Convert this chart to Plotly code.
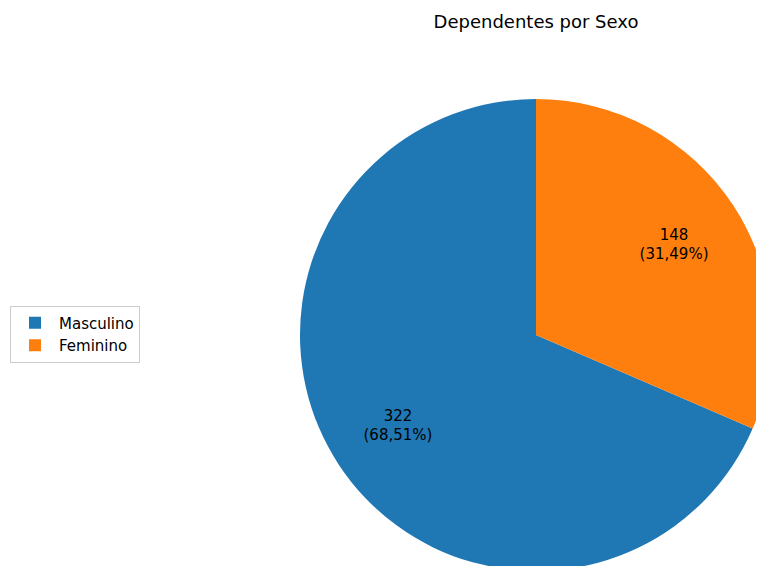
import plotly.graph_objects as go

# data
categorias = ["Masculino", "Feminino"]
quantidades = [322, 148]
cores = ["#1f77b4", "#ff7f0e"]

# the page body adds an 8px offset, so positions below are shifted by -8px
dominio = dict(x=[292 / 764, 1], y=[0, 1])
# Masculino runs counterclockwise from 12 o'clock, as in the reference
giro = quantidades[1] / sum(quantidades) * 360

fig = go.Figure()

# filled slices
fig.add_trace(go.Pie(
    labels=categorias,
    values=quantidades,
    marker=dict(colors=cores),
    sort=False,
    direction="clockwise",
    rotation=giro,
    textinfo="none",
    hoverinfo="label+value+percent",
    domain=dominio,
))

# transparent ring carrying the labels further out, like the reference
fig.add_trace(go.Pie(
    labels=categorias,
    values=quantidades,
    marker=dict(colors=["rgba(0,0,0,0)", "rgba(0,0,0,0)"]),
    sort=False,
    direction="clockwise",
    rotation=giro,
    hole=0.4,
    texttemplate="%{value}<br>(%{percent:.2%})",
    textposition="inside",
    insidetextorientation="horizontal",
    textfont=dict(color="black", size=15, family="DejaVu Sans"),
    hoverinfo="skip",
    showlegend=False,
    domain=dominio,
))

fig.update_layout(
    title=dict(
        text="Dependentes por Sexo",
        x=528 / 764,
        xanchor="center",
        xref="container",
        y=1 - 14 / 566,
        yanchor="middle",
        yref="container",
        font=dict(size=18, color="black", family="DejaVu Sans"),
    ),
    separators=",.",
    width=764,
    height=566,
    margin=dict(l=0, r=0, t=91, b=3),
    paper_bgcolor="white",
    plot_bgcolor="white",
    font=dict(family="DejaVu Sans", color="black"),
    legend=dict(
        x=2 / 764,
        xanchor="left",
        y=0.502,
        yanchor="middle",
        bordercolor="#cccccc",
        borderwidth=1,
        itemwidth=38,
        font=dict(size=15, color="black"),
        traceorder="normal",
    ),
)

fig.write_html("out.html")
